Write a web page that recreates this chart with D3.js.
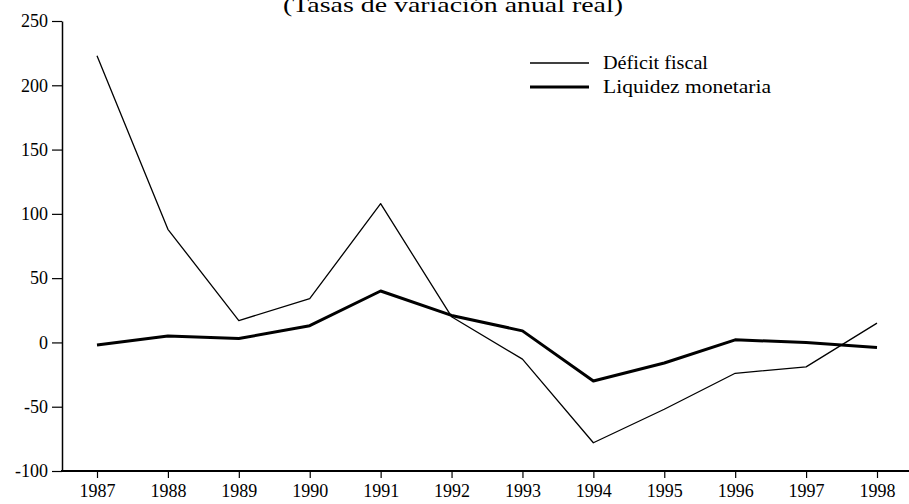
<!DOCTYPE html>
<html><head><meta charset="utf-8">
<script src="https://cdn.jsdelivr.net/npm/d3@7"></script>
<style>body{margin:0;background:#fff}svg{display:block}text{font-family:"Liberation Serif","DejaVu Serif",serif;fill:#000}</style>
</head><body><svg id="c" width="909" height="504"></svg>
<script>
const years = [1987,1988,1989,1990,1991,1992,1993,1994,1995,1996,1997,1998];
const deficitFiscal = [223,88,17,34,108,20,-13,-78,-52,-24,-19,15];
const liquidezMonetaria = [-2,5,3,13,40,21,9,-30,-16,2,0,-4];
const yTicks = [-100,-50,0,50,100,150,200,250];
const seriesNames = ["Déficit fiscal","Liquidez monetaria"];
const title = "(Tasas de variación anual real)";

const svg = d3.select("#c");
const x = d3.scalePoint().domain(years).range([97,877]);
const y = d3.scaleLinear().domain([-100,250]).range([471,21]);

svg.append("text").attr("x",453).attr("y",12).attr("text-anchor","middle")
  .attr("textLength",340).attr("lengthAdjust","spacingAndGlyphs")
  .style("font-size","22px").text(title);

const yAxis = svg.append("g").attr("transform","translate(62,0)")
  .call(d3.axisLeft(y).tickValues(yTicks).tickFormat(d=>String(d)).tickSize(10).tickSizeOuter(0).tickPadding(4));
yAxis.select(".domain").attr("stroke","#000").attr("stroke-width",1.5);
yAxis.selectAll(".tick line").attr("stroke-width",1.2);
yAxis.selectAll("text").style("font-size","18px").style("font-family","Liberation Serif");

svg.append("line").attr("x1",61).attr("x2",909).attr("y1",y(-100)).attr("y2",y(-100))
  .attr("stroke","#000").attr("stroke-width",2);
const xAxis = svg.append("g").attr("transform",`translate(0,${y(-100)})`)
  .call(d3.axisBottom(x).tickSize(7).tickPadding(6));
xAxis.select(".domain").remove();
xAxis.selectAll("line").attr("stroke-width",1.2);
xAxis.selectAll("text").style("font-size","18px").style("font-family","Liberation Serif");

const line = d3.line().x((d,i)=>x(years[i])).y(d=>y(d));
svg.append("path").datum(deficitFiscal).attr("d",line).attr("fill","none")
  .attr("stroke","#000").attr("stroke-width",1.3).attr("stroke-linejoin","round");
svg.append("path").datum(liquidezMonetaria).attr("d",line).attr("fill","none")
  .attr("stroke","#000").attr("stroke-width",3).attr("stroke-linejoin","round");

const widths = [1.3,3];
const textLens = [105,168];
const lg = svg.append("g");
seriesNames.forEach((n,i)=>{
  const yy = 63 + i*24;
  lg.append("line").attr("x1",530).attr("x2",589).attr("y1",yy).attr("y2",yy)
    .attr("stroke","#000").attr("stroke-width",widths[i]);
  lg.append("text").attr("x",603).attr("y",yy+6).style("font-size","18px")
    .attr("textLength",textLens[i]).attr("lengthAdjust","spacingAndGlyphs").text(n);
});
</script></body></html>
